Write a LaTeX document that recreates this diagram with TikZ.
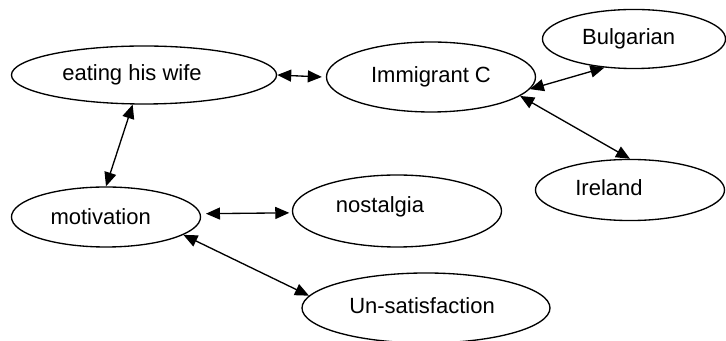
\documentclass[tikz,border=0pt]{standalone}
\usepackage{fontspec}
\setmainfont{Liberation Sans}
\usetikzlibrary{shapes.geometric,arrows.meta}

\begin{document}
\begin{tikzpicture}[x=0.75pt,y=-0.75pt,
    font=\fontsize{16.5}{20}\selectfont,
    bubble/.style={draw,ellipse,line width=1pt,inner sep=0pt},
    link/.style={{Triangle[length=10.5pt,width=9pt]}-{Triangle[length=10.5pt,width=9pt]},line width=1pt}]
      \useasboundingbox (0,0) rectangle (726,341);
      % the bubbles
      \node[bubble,minimum width=198.8pt,minimum height=43.5pt,
            label={[xshift=-9pt]center:eating his wife}] (eat) at (144,75) {};
      \node[bubble,minimum width=156.8pt,minimum height=52.5pt] (imm) at (431,77) {Immigrant C};
      \node[bubble,minimum width=137.3pt,minimum height=44.3pt,
            label={[xshift=-4pt]center:Bulgarian}] (bulg) at (634,39) {};
      \node[bubble,minimum width=141.8pt,minimum height=45.8pt,
            label={[xshift=-15.75pt,yshift=1.5pt]center:Ireland}] (irl) at (630,190) {};
      \node[bubble,minimum width=141.8pt,minimum height=45pt,
            label={[xshift=-4pt]center:motivation}] (motiv) at (106,217) {};
      \node[bubble,minimum width=156.8pt,minimum height=54pt,
            label={[xshift=-12.75pt,yshift=3pt]center:nostalgia}] (nost) at (397,211) {};
      \node[bubble,minimum width=186pt,minimum height=52.5pt,
            label={[xshift=-3pt,yshift=2pt]center:Un-satisfaction}] (unsat) at (426,308) {};
      % the links
      \draw[link] (eat.east) -- ([xshift=-3pt]imm.west);
      \draw[link] (eat.-111) -- (motiv.north);
      \draw[link] ([xshift=4pt]motiv.2) -- ([xshift=-2pt]nost.181);
      \draw[link] (motiv.-13) -- (unsat.174);
      \draw[link] (imm.-7) -- (bulg.-136);
      \draw[link] (imm.-12) -- (irl.north);
\end{tikzpicture}
\end{document}
